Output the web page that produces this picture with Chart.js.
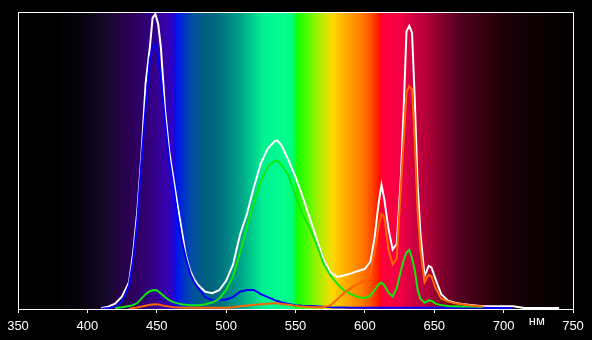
<!DOCTYPE html>
<html>
<head>
<meta charset="utf-8">
<script src="https://cdn.jsdelivr.net/npm/chart.js@4/dist/chart.umd.min.js"></script>
<style>
  html, body { margin: 0; padding: 0; background: #000; }
  #spectrum { display: block; }
</style>
</head>
<body>
<canvas id="spectrum" width="592" height="340"></canvas>
<script>
// Longitudes de onda (nm) comunes a todas las curvas
const wavelengths = [405, 410, 415, 420, 425, 430, 433, 436, 439, 442, 445, 447, 449, 451, 453, 456, 459, 462, 465, 468,
  471, 474, 477, 480, 485, 490, 495, 500, 505, 510, 515, 520, 525, 530, 535, 537, 540, 545, 550, 555,
  560, 565, 570, 575, 580, 585, 590, 595, 600, 604, 607, 610, 612, 614, 617, 620, 623, 626, 628, 630,
  632, 634, 636, 638, 640, 643, 646, 648, 651, 655, 660, 665, 670, 675, 680, 685, 690, 700, 707, 715,
  725, 740];

// Intensidad relativa (0-100)
const whiteVals = [null, 0.3, 0.8, 1.8, 4.2, 9, 19, 33, 52, 76, 88, 98, 99.3, 96, 88, 67, 53, 44, 35, 26.5,
  18, 13, 10, 8, 5.8, 5.3, 6.3, 9.5, 15, 25, 32, 41, 49, 54, 56.5, 56.7, 55, 50, 44.5, 38,
  31, 24, 17, 12.5, 10.8, 11.3, 12, 12.8, 13.5, 16, 24, 36, 41.8, 37, 27, 20, 22, 45, 68, 93.5,
  95.3, 93, 70, 42, 25.6, 11, 14.5, 14, 10, 5, 2.8, 2.1, 1.7, 1.4, 1.2, 0.9, 0.9, 0.9, 0.9, 0.3,
  0.3, 0.3];
const blueVals = [null, 0, 0.3, 0.8, 2.5, 8, 16.5, 30, 50, 68, 84, 88, 89.4, 85, 78, 63, 50, 41, 31, 23,
  17, 12, 9, 7, 4, 3, 3, 3.2, 4, 5.8, 6.4, 6.4, 5, 4, 3, 2.7, 2.2, 1.7, 1.3, 1.1,
  1, 0.9, 0.8, 0.6, 0.5, 0.5, 0.4, 0.4, 0.4, 0.4, 0.4, 0.4, 0.4, 0.4, 0.4, 0.4, 0.4, 0.4, 0.4, 0.4,
  0.4, 0.4, 0.4, 0.4, 0.4, 0.4, 0.4, 0.4, 0.4, 0.4, 0.4, 0.4, 0.4, 0.4, 0.4, 0.4, 0.3, 0.3, 0.2, null,
  null, null];
const greenVals = [null, null, null, 0.3, 0.6, 1.0, 1.3, 2, 3.5, 5, 6, 6.3, 6.4, 6, 5.2, 4, 3, 2.3, 1.9, 1.6,
  1.4, 1.3, 1.3, 1.3, 1.6, 2.2, 3.4, 6.4, 11, 19, 27.6, 36, 43, 48, 49.8, 50, 48.5, 45, 38, 32,
  27.5, 22, 15.5, 11.4, 8.6, 6.2, 5, 4, 3.7, 4.5, 6.4, 8.3, 8.9, 8, 5.5, 4.2, 7, 13, 16.5, 19,
  19.9, 17, 13, 6.5, 3.5, 2.1, 2.9, 2.8, 1.8, 1.3, 1, 0.9, 0.8, 0.8, 0.8, 0.7, null, null, null, null,
  null, null];
const orangeVals = [null, null, null, null, null, 0, 0.3, 0.5, 0.8, 1.1, 1.4, 1.5, 1.6, 1.5, 1.3, 1.0, 0.8, 0.6, 0.5, 0.4,
  0.4, 0.4, 0.4, 0.4, 0.4, 0.4, 0.4, 0.4, 0.6, 0.9, 1.2, 1.4, 1.6, 1.8, 1.9, 1.9, 1.7, 1.4, 1.1, 0.8,
  0.7, 0.6, 0.6, 1.2, 3.2, 5.5, 7, 8.5, 9.5, 12, 19, 28, 32, 31, 20, 15, 17, 42, 57, 73,
  75, 74, 56, 33, 20, 9, 11.5, 11, 7, 3.5, 2.5, 1.9, 1.6, 1.3, 1.1, 0.8, null, null, null, null,
  null, null];

const xTicks = [350, 400, 450, 500, 550, 600, 650, 700, 750];
const unitLabel = 'нм';

// Colores del fondo espectral: [nm, color]
const spectrumStops = [
  [350, '#000000'], [378, '#000000'], [398, '#080310'], [415, '#1a0830'], [429, '#2a0050'],
  [444, '#32007a'], [456, '#3800a8'], [462, '#2a00c8'], [464, '#0010f0'], [466, '#0020e0'],
  [476, '#0050a0'], [485, '#00607f'], [493, '#006a80'], [510, '#00a088'], [526, '#00f090'],
  [542, '#00ff90'], [549, '#00ff70'], [550.5, '#10ff00'], [557, '#40ff00'], [566, '#a0f000'],
  [574, '#e8e000'], [578, '#ffd400'], [586, '#ffac00'], [598, '#ff7a00'], [605, '#ff4a00'],
  [610.5, '#ff1000'], [612.5, '#ff0038'], [625, '#f50045'], [637, '#c80040'], [646, '#b00038'],
  [652, '#900030'], [669, '#500020'], [684, '#3a0010'], [698, '#200008'], [718, '#100004'],
  [737, '#080000'], [750, '#000000']
];

function toPoints(vals) {
  return wavelengths.map((x, i) => ({ x: x, y: vals[i] })).filter(p => p.y !== null);
}

const spectrumPlugin = {
  id: 'spectrum',
  beforeDraw(chart) {
    const ctx = chart.ctx;
    ctx.save();
    ctx.fillStyle = '#000';
    ctx.fillRect(0, 0, chart.width, chart.height);
    const area = chart.chartArea;
    const xs = chart.scales.x;
    const x0 = xs.getPixelForValue(350);
    const x1 = xs.getPixelForValue(750);
    const grad = ctx.createLinearGradient(x0, 0, x1, 0);
    spectrumStops.forEach(([nm, c]) => grad.addColorStop((nm - 350) / 400, c));
    ctx.fillStyle = grad;
    ctx.fillRect(area.left, area.top, area.right - area.left, area.bottom - area.top);
    ctx.restore();
  },
  afterDraw(chart) {
    const ctx = chart.ctx;
    const area = chart.chartArea;
    ctx.save();
    // marco blanco
    ctx.strokeStyle = '#fff';
    ctx.lineWidth = 1;
    ctx.strokeRect(area.left + 0.5, area.top + 0.5, area.right - area.left, area.bottom - area.top);
    // unidad
    ctx.fillStyle = '#fff';
    ctx.font = "13px 'Liberation Sans', Arial, sans-serif";
    ctx.textAlign = 'center';
    ctx.textBaseline = 'alphabetic';
    ctx.fillText(unitLabel, chart.scales.x.getPixelForValue(724), area.bottom + 16);
    ctx.restore();
  }
};

function lineSet(label, vals, color) {
  return {
    label: label,
    data: toPoints(vals),
    borderColor: color,
    borderWidth: 2,
    pointRadius: 0,
    tension: 0,
    fill: false
  };
}

new Chart(document.getElementById('spectrum'), {
  type: 'line',
  data: {
    // el primer dataset se dibuja encima
    datasets: [
      lineSet('R', orangeVals, '#ff6400'),
      lineSet('G', greenVals, '#10e810'),
      lineSet('B', blueVals, '#0000ff'),
      lineSet('W', whiteVals, '#ffffff')
    ]
  },
  options: {
    responsive: false,
    animation: false,
    devicePixelRatio: 1,
    layout: { padding: { left: 18, right: 19, top: 12, bottom: 0 } },
    plugins: { legend: { display: false }, tooltip: { enabled: false } },
    scales: {
      x: {
        type: 'linear',
        min: 350,
        max: 750,
        afterFit: (scale) => { scale.height = 31; },
        afterBuildTicks: (scale) => { scale.ticks = xTicks.map(v => ({ value: v })); },
        grid: { drawOnChartArea: false, drawTicks: true, tickLength: 4, color: '#fff' },
        border: { display: false },
        ticks: {
          color: '#fff',
          padding: 6,
          maxRotation: 0,
          font: { family: "'Liberation Sans', Arial, sans-serif", size: 13 }
        }
      },
      y: { display: false, min: 0, max: 100 }
    }
  },
  plugins: [spectrumPlugin]
});
</script>
</body>
</html>
